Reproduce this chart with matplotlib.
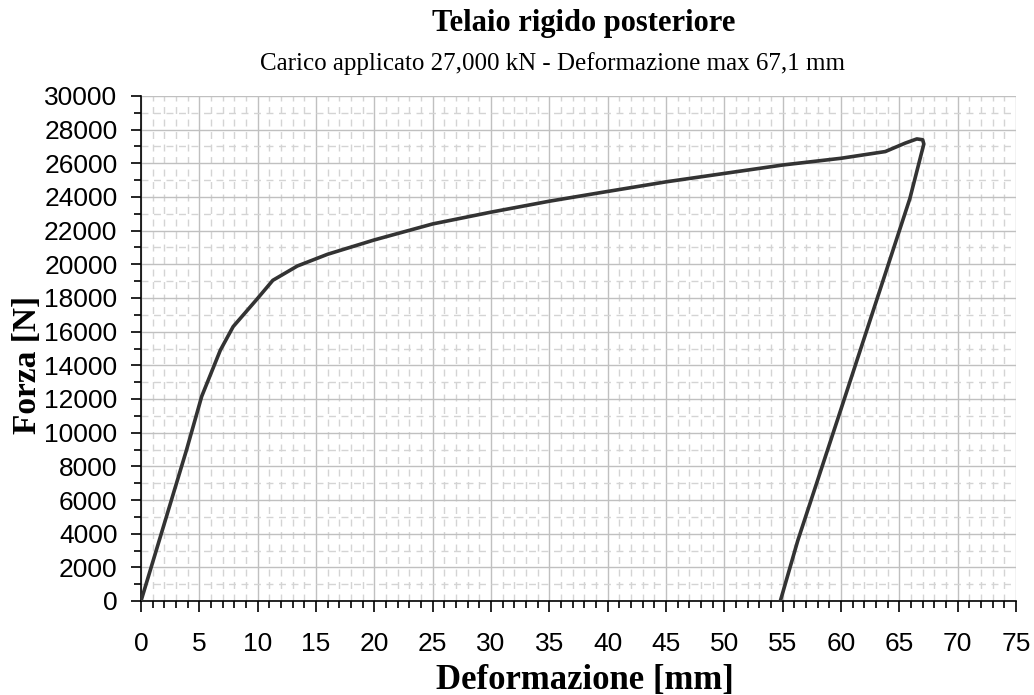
import matplotlib
matplotlib.use("Agg")
import matplotlib.pyplot as plt
from matplotlib.ticker import MultipleLocator
import numpy as np

# Data (deformation in mm, force in N)
deformazione = [0.0, 3.9, 5.2, 6.8, 7.9, 9.9, 11.3, 13.4, 16.0, 20.0, 25.0, 30.0,
                35.0, 39.3, 45.0, 50.0, 55.0, 60.0, 63.8, 65.5, 66.5, 67.0, 67.1, 65.9, 60.0, 56.3, 54.8]
forza = [0, 8970, 12150, 14900, 16300, 17900, 19050, 19900, 20600, 21450, 22400, 23100,
         23750, 24250, 24900, 25400, 25900, 26300, 26700, 27200, 27450, 27400, 27150, 23900, 11400, 3600, 0]

titolo = "Telaio rigido posteriore"
sottotitolo = "Carico applicato 27,000 kN - Deformazione max 67,1 mm"
xlabel = "Deformazione [mm]"
ylabel = "Forza [N]"

fig = plt.figure(figsize=(10.34, 6.95), dpi=100)
ax = fig.add_axes([141/1034, 1-601/695, (1016-141)/1034, (601-96)/695])

ax.plot(deformazione, forza, color="#333333", lw=2.6, solid_joinstyle="round",
        solid_capstyle="round", zorder=3)

ax.set_xlim(0, 75)
ax.set_ylim(0, 30000)
ax.xaxis.set_major_locator(MultipleLocator(5))
ax.xaxis.set_minor_locator(MultipleLocator(1))
ax.yaxis.set_major_locator(MultipleLocator(2000))
ax.yaxis.set_minor_locator(MultipleLocator(1000))

ax.grid(which="major", color="#c0c0c0", lw=1.0, ls="-")
ax.grid(which="minor", color="#d4d4d4", lw=1.0, ls=(0, (5, 4)))
ax.set_axisbelow(True)

for s in ["top", "right"]:
    ax.spines[s].set_visible(False)
for s in ["left", "bottom"]:
    ax.spines[s].set_color("black")
    ax.spines[s].set_linewidth(1.2)

sans = ["Liberation Sans", "DejaVu Sans"]
serif = ["Liberation Serif", "DejaVu Serif"]
ax.tick_params(axis="x", which="major", direction="out", length=8, width=1.2, pad=14, labelsize=19)
ax.tick_params(axis="x", which="minor", direction="out", length=5, width=1.2)
ax.tick_params(axis="y", which="major", direction="out", length=7, width=1.2, pad=10, labelsize=19)
ax.tick_params(axis="y", which="minor", direction="out", length=5, width=1.2)
for lab in ax.get_xticklabels() + ax.get_yticklabels():
    lab.set_fontfamily(sans)

fig.text(585/1034, 1-680/695, xlabel, ha="center", va="center", fontfamily=serif,
         fontweight="bold", fontsize=25)
fig.text(27/1034, 1-365/695, ylabel, ha="center", va="center", rotation=90,
         fontfamily=serif, fontweight="bold", fontsize=24)

fig.text(584/1034, 1-23/695, titolo, ha="center", va="center", fontfamily=serif,
         fontweight="bold", fontsize=22)
fig.text(553/1034, 1-64/695, sottotitolo, ha="center", va="center", fontfamily=serif, fontsize=18)

fig.savefig("out.png", dpi=100)
